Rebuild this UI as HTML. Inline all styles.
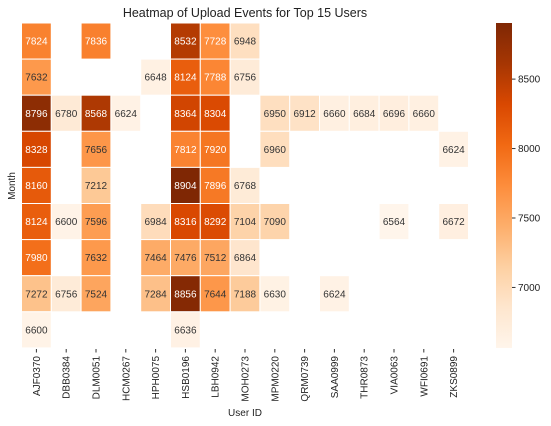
<!DOCTYPE html>
<html><head><meta charset="utf-8"><style>
body{margin:0;background:#fff;}
svg{font-family:"Liberation Sans","DejaVu Sans",sans-serif;display:block}
</style></head><body>
<svg id="chart" width="551" height="426">
<text x="245" y="17" text-anchor="middle" font-size="12.5" fill="#222">Heatmap of Upload Events for Top 15 Users</text>
<text x="245" y="416" text-anchor="middle" font-size="10" fill="#222">User ID</text>
<text transform="translate(15,186) rotate(-90)" text-anchor="middle" font-size="10" fill="#222">Month</text>
<g id="cells"></g><g id="xt"></g><g id="cb"></g>
</svg>
<script>
const users=["AJF0370","DBB0384","DLM0051","HCM0267","HPH0075","HSB0196","LBH0942","MOH0273","MPM0220","QRM0739","SAA0999","THR0873","VIA0063","WFI0691","ZKS0899"];
const row0=[7824,null,7836,null,null,8532,7728,6948,null,null,null,null,null,null,null];
const row1=[7632,null,null,null,6648,8124,7788,6756,null,null,null,null,null,null,null];
const row2=[8796,6780,8568,6624,null,8364,8304,null,6950,6912,6660,6684,6696,6660,null];
const row3=[8328,null,7656,null,null,7812,7920,null,6960,null,null,null,null,null,6624];
const row4=[8160,null,7212,null,null,8904,7896,6768,null,null,null,null,null,null,null];
const row5=[8124,6600,7596,null,6984,8316,8292,7104,7090,null,null,null,6564,null,6672];
const row6=[7980,null,7632,null,7464,7476,7512,6864,null,null,null,null,null,null,null];
const row7=[7272,6756,7524,null,7284,8856,7644,7188,6630,null,6624,null,null,null,null];
const row8=[6600,null,null,null,null,6636,null,null,null,null,null,null,null,null,null];
const rows=[row0,row1,row2,row3,row4,row5,row6,row7,row8];
const cbTicks=[7000,7500,8000,8500];
const vmin=6564,vmax=8904;
const L=21.5,T=23,CW=29.8,RH=36.1;
const stops=["#fff5eb","#fee6ce","#fdd0a2","#fdae6b","#fd8d3c","#f16913","#d94801","#a63603","#7f2704"].map(h=>[1,3,5].map(i=>parseInt(h.substr(i,2),16)));
function cmap(t){t=Math.max(0,Math.min(1,t));const p=t*(stops.length-1),i=Math.min(Math.floor(p),stops.length-2),f=p-i;return stops[i].map((c,k)=>Math.round(c+(stops[i+1][k]-c)*f));}
const NS="http://www.w3.org/2000/svg";
function el(t,a,p){const e=document.createElementNS(NS,t);for(const k in a)e.setAttribute(k,a[k]);p.appendChild(e);return e;}
const xs=i=>L+i*CW, ys=j=>T+j*RH;
const cells=document.getElementById('cells');
rows.forEach((r,j)=>r.forEach((v,i)=>{if(v==null)return;
const t=(v-vmin)/(vmax-vmin);
const c=cmap(t);
const rc=el('rect',{x:xs(i),y:ys(j),width:CW,height:RH,fill:`rgb(${c})`,stroke:'#fff','stroke-width':1},cells);


const tx=el('text',{x:xs(i)+CW/2,y:ys(j)+RH/2+3.5,'text-anchor':'middle','font-size':'10',fill:t<0.487?'#333':'#fff'},cells);
tx.textContent=v;

}));
const xt=document.getElementById('xt');
users.forEach((u,i)=>{const x=xs(i)+CW/2;
el('line',{x1:x,x2:x,y1:349,y2:352.5,stroke:'#333'},xt);
const t=el('text',{transform:`translate(${x+3.5},356) rotate(-90)`,'text-anchor':'end','font-size':'10',fill:'#222'},xt);
t.textContent=u;

});
const cb=document.getElementById('cb');
const CX=496,CWd=16,CT=23,CB=348;
const defs=el('defs',{},cb);const g=el('linearGradient',{id:'gr',x1:0,y1:1,x2:0,y2:0},defs);
stops.forEach((s,k)=>el('stop',{offset:k/(stops.length-1),'stop-color':`rgb(${s})`},g));
const bar=el('rect',{x:CX,y:CT,width:CWd,height:CB-CT,fill:'url(#gr)'},cb);


const cy=v=>CB-(v-vmin)/(vmax-vmin)*(CB-CT);
cbTicks.forEach(v=>{const y=cy(v);el('line',{x1:CX+CWd,x2:CX+CWd+3.5,y1:y,y2:y,stroke:'#333'},cb);
const t=el('text',{x:CX+CWd+6,y:y+3.5,'font-size':'10',fill:'#222'},cb);t.textContent=v;

});
</script>
</body></html>
